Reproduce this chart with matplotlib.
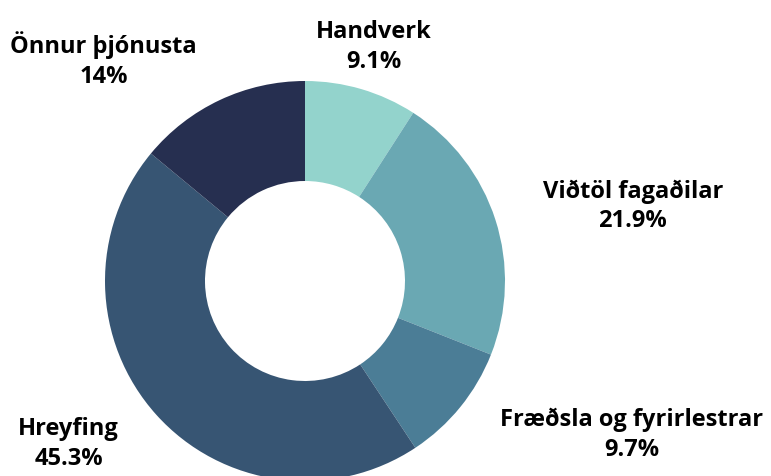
import numpy as np
import matplotlib.pyplot as plt

labels = ["Handverk", "Viðtöl fagaðilar", "Fræðsla og fyrirlestrar", "Hreyfing", "Önnur þjónusta"]
values = [9.1, 21.9, 9.7, 45.3, 14]
pct_text = ["9.1%", "21.9%", "9.7%", "45.3%", "14%"]
colors = ["#93d3cc", "#6aa8b3", "#4b7d96", "#375573", "#262f50"]

W, H = 771, 476
fig = plt.figure(figsize=(W / 100, H / 100), dpi=100)

# pie centre (305, 281) px, radius 200 px
cx, cy, R = 305, 281, 200
ax = fig.add_axes([(cx - R) / W, (H - cy - R) / H, 2 * R / W, 2 * R / H])

wedges, _ = ax.pie(values, colors=colors, startangle=90, counterclock=False,
                   radius=1, wedgeprops=dict(width=0.5, linewidth=0), frame=False)
ax.set_xlim(-1, 1)
ax.set_ylim(-1, 1)
ax.axis("off")
for w in wedges:
    w.set_clip_on(False)

# labels outside, around the ring
for w, name, p in zip(wedges, labels, pct_text):
    ang = np.deg2rad((w.theta1 + w.theta2) / 2)
    x, y = 1.22 * np.cos(ang), 1.22 * np.sin(ang)
    c = np.cos(ang)
    if abs(c) < 0.35:
        ha = "center"
    elif c > 0:
        ha, x = "left", x + 0.027
    else:
        ha, x = "right", x - 0.022
    ax.text(x, y, name + "\n" + p, ha=ha, va="center", multialignment="center",
            fontsize=17, fontweight="bold", family="Open Sans",
            linespacing=1.3, clip_on=False)

fig.savefig("out.png", dpi=100)
